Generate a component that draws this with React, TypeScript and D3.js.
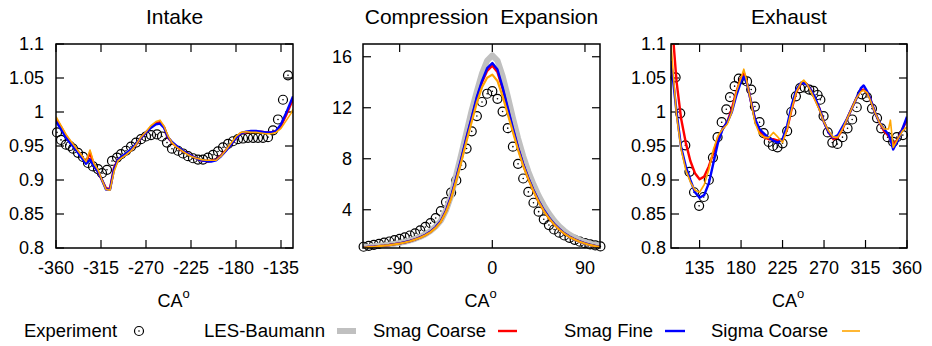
import React from "react";
import * as d3 from "d3";

// ---------------- DATA ----------------
// Intake
const intakeExpX = [-359,-355,-350,-346,-343,-338,-333,-328,-323,-318,-314,-309,-304,-299,-295,-290,-285,-280,-275,-270,-265,-259,-254,-249,-244,-238,-233,-228,-223,-218,-213,-208,-203,-198,-193,-188,-183,-178,-173,-168,-163,-158,-153,-148,-143,-138,-133,-128];
const intakeExpY = [0.970,0.959,0.952,0.950,0.946,0.940,0.934,0.925,0.920,0.916,0.910,0.915,0.928,0.933,0.938,0.943,0.949,0.955,0.960,0.964,0.966,0.967,0.964,0.955,0.946,0.943,0.939,0.935,0.932,0.930,0.930,0.933,0.937,0.942,0.948,0.953,0.957,0.960,0.961,0.962,0.962,0.962,0.962,0.963,0.973,0.989,1.018,1.054];
const intakeModelX = [-360,-355,-350,-345,-340,-335,-330,-326,-322,-318,-314,-310,-306,-302,-298,-294,-290,-285,-280,-275,-270,-265,-260,-256,-252,-248,-244,-240,-235,-230,-225,-220,-215,-210,-205,-200,-195,-190,-185,-180,-175,-170,-165,-160,-155,-150,-145,-140,-135,-130,-125,-123];
const intakeSmagCoarse = [0.990,0.978,0.965,0.955,0.946,0.936,0.926,0.940,0.922,0.912,0.900,0.888,0.887,0.918,0.930,0.934,0.938,0.944,0.952,0.962,0.970,0.978,0.984,0.985,0.978,0.962,0.955,0.950,0.944,0.940,0.936,0.932,0.929,0.928,0.928,0.930,0.936,0.944,0.952,0.962,0.969,0.970,0.971,0.971,0.971,0.970,0.970,0.972,0.980,0.995,1.012,1.018];
const intakeSmagFine = [0.986,0.975,0.962,0.953,0.944,0.934,0.924,0.930,0.920,0.912,0.900,0.886,0.886,0.916,0.930,0.935,0.939,0.945,0.953,0.962,0.970,0.977,0.982,0.983,0.977,0.963,0.956,0.951,0.945,0.940,0.936,0.932,0.929,0.928,0.927,0.929,0.935,0.943,0.952,0.962,0.969,0.971,0.972,0.972,0.971,0.970,0.970,0.972,0.982,0.998,1.016,1.023];
const intakeSigmaCoarse = [0.993,0.980,0.967,0.957,0.947,0.937,0.927,0.944,0.924,0.915,0.900,0.886,0.885,0.912,0.928,0.933,0.937,0.943,0.952,0.963,0.971,0.980,0.986,0.988,0.979,0.965,0.955,0.949,0.944,0.939,0.935,0.932,0.930,0.929,0.929,0.929,0.935,0.944,0.954,0.964,0.970,0.971,0.970,0.970,0.969,0.968,0.968,0.970,0.976,0.987,0.998,1.004];

// Compression / Expansion
const compX = [-125,-120,-115,-110,-105,-100,-95,-90,-85,-80,-75,-70,-65,-60,-55,-50,-45,-40,-35,-30,-25,-20,-15,-10,-5,0,5,10,15,20,25,30,35,40,45,50,55,60,65,70,75,80,85,90,95,100,105];
const compExp = [1.10,1.17,1.25,1.33,1.42,1.51,1.61,1.71,1.83,1.98,2.15,2.38,2.65,2.95,3.35,3.90,4.60,5.35,6.30,7.50,8.80,10.15,11.35,12.45,13.10,13.30,12.70,11.70,10.40,8.95,7.60,6.45,5.40,4.55,3.85,3.25,2.80,2.45,2.20,1.98,1.80,1.64,1.50,1.38,1.28,1.20,1.12];
const compBaumann = [1.07,1.10,1.14,1.18,1.22,1.27,1.33,1.40,1.48,1.59,1.72,1.88,2.08,2.34,2.68,3.15,3.95,5.10,6.75,8.40,10.10,11.80,13.30,14.70,15.70,16.10,15.70,14.50,12.90,11.20,9.60,8.20,7.00,6.00,5.10,4.35,3.70,3.15,2.70,2.35,2.05,1.82,1.62,1.47,1.35,1.25,1.18];
const compSmagCoarse = [1.05,1.08,1.11,1.15,1.19,1.24,1.30,1.36,1.44,1.55,1.68,1.83,2.02,2.28,2.62,3.10,3.90,5.00,6.45,8.00,9.65,11.20,12.75,14.00,14.90,15.30,14.80,13.50,11.90,10.30,8.85,7.55,6.45,5.50,4.65,3.95,3.35,2.87,2.47,2.13,1.88,1.67,1.50,1.36,1.25,1.16,1.09];
const compSmagFine = [1.05,1.08,1.11,1.15,1.19,1.24,1.30,1.36,1.45,1.55,1.68,1.84,2.03,2.29,2.64,3.12,3.92,5.05,6.50,8.05,9.70,11.25,12.85,14.10,15.10,15.50,15.00,13.60,12.00,10.40,8.90,7.60,6.50,5.55,4.70,4.00,3.40,2.90,2.50,2.15,1.90,1.68,1.51,1.37,1.26,1.17,1.10];
const compSigmaCoarse = [1.04,1.07,1.10,1.14,1.18,1.23,1.29,1.35,1.43,1.53,1.66,1.81,2.00,2.25,2.58,3.05,3.82,4.90,6.30,7.80,9.40,10.90,12.40,13.60,14.35,14.60,14.10,12.90,11.50,10.10,8.70,7.45,6.40,5.45,4.62,3.92,3.33,2.85,2.45,2.12,1.87,1.66,1.49,1.35,1.24,1.15,1.08];

// Exhaust
const exhExpX = [109,114,119.5,124,129,134.5,139.5,145,149.5,154.5,159,164,168,173,177.5,182,186.5,191,195,200,204.5,210,214.5,219.5,225,230,234.5,239.5,244,249,254,258.5,263,266,269.5,274,279,284.5,290,295.5,300.5,305.5,311,316.5,322,327.5,332,339,345,349,355.5];
const exhExpY = [1.051,0.998,0.951,0.912,0.882,0.862,0.875,0.900,0.933,0.963,0.985,1.004,1.022,1.038,1.049,1.048,1.045,1.033,1.008,0.985,0.969,0.956,0.950,0.948,0.954,0.972,1.000,1.023,1.035,1.036,1.033,1.031,1.025,1.018,0.994,0.970,0.955,0.953,0.963,0.976,0.989,1.007,1.026,1.022,1.005,0.991,0.976,0.963,0.956,0.963,0.966];
const exhModelX = [104,110,115,120,125,130,135,140,145,150,155,160,165,170,175,180,183,187,190,195,200,205,210,215,220,225,230,235,240,245,248,252,256,260,265,270,275,280,285,290,295,300,305,310,313,317,320,325,330,335,340,342,345,350,355,360];
const exhSmagCoarse = [1.150,1.045,0.990,0.955,0.928,0.910,0.901,0.905,0.920,0.940,0.962,0.975,0.985,1.005,1.030,1.050,1.058,1.040,1.020,0.990,0.972,0.963,0.960,0.960,0.958,0.958,0.975,1.005,1.030,1.042,1.045,1.040,1.032,1.020,1.005,0.985,0.970,0.960,0.963,0.975,0.990,1.005,1.020,1.032,1.033,1.028,1.020,1.000,0.985,0.972,0.965,0.960,0.952,0.960,0.975,0.988];
const exhSmagFine = [1.075,1.000,0.948,0.920,0.900,0.882,0.874,0.878,0.895,0.925,0.955,0.975,0.985,1.000,1.025,1.045,1.052,1.040,1.020,0.990,0.975,0.968,0.962,0.958,0.955,0.960,0.980,1.010,1.033,1.043,1.042,1.040,1.032,1.022,1.005,0.985,0.970,0.962,0.966,0.978,0.990,1.005,1.020,1.035,1.039,1.030,1.020,1.000,0.985,0.975,0.967,0.960,0.945,0.958,0.975,0.993];
const exhSigmaCoarse = [1.100,0.995,0.945,0.915,0.897,0.885,0.882,0.893,0.915,0.945,0.965,0.975,0.982,1.000,1.030,1.050,1.063,1.040,1.020,0.985,0.968,0.963,0.962,0.970,0.963,0.955,0.975,1.005,1.030,1.043,1.047,1.040,1.030,1.018,1.003,0.985,0.972,0.963,0.963,0.975,0.990,1.005,1.020,1.030,1.032,1.028,1.018,1.000,0.985,0.975,0.975,0.988,0.948,0.960,0.972,0.978];

// Ticks
const ratioTicks = [0.8, 0.85, 0.9, 0.95, 1, 1.05, 1.1];
const ratioTickLabels = ["0.8", "0.85", "0.9", "0.95", "1", "1.05", "1.1"];
const intakeXTicks = [-360, -315, -270, -225, -180, -135];
const compXTicks = [-90, 0, 90];
const compYTicks = [4, 8, 12, 16];
const exhXTicks = [135, 180, 225, 270, 315, 360];

const titles = ["Intake", "Compression  Expansion", "Exhaust"];
const legendNames = ["Experiment", "LES-Baumann", "Smag Coarse", "Smag Fine", "Sigma Coarse"];

// ---------------- STYLE ----------------
const FONT = "'Liberation Sans', Arial, Helvetica, sans-serif";
const C_GRAY = "#c0c0c0";
const C_RED = "#ff0000";
const C_BLUE = "#0000ff";
const C_ORANGE = "#ffa500";
const TOP = 44;
const BOTTOM = 248;

type Line = { x: number[]; y: number[]; color: string; width: number };
type PanelCfg = {
  id: string;
  title: string;
  left: number;
  right: number;
  xDomain: [number, number];
  yDomain: [number, number];
  xTicks: number[];
  yTicks: number[];
  yLabels: string[];
  yLabelX: number;
  expX: number[];
  expY: number[];
  lines: Line[];
};

const panels: PanelCfg[] = [
  {
    id: "p1", title: titles[0], left: 56, right: 293,
    xDomain: [-360, -123], yDomain: [0.8, 1.1],
    xTicks: intakeXTicks, yTicks: ratioTicks, yLabels: ratioTickLabels, yLabelX: 44,
    expX: intakeExpX, expY: intakeExpY,
    lines: [
      { x: intakeModelX, y: intakeSmagCoarse, color: C_RED, width: 2.4 },
      { x: intakeModelX, y: intakeSmagFine, color: C_BLUE, width: 2.4 },
      { x: intakeModelX, y: intakeSigmaCoarse, color: C_ORANGE, width: 1.6 },
    ],
  },
  {
    id: "p2", title: titles[1], left: 363, right: 600,
    xDomain: [-125.6, 104.6], yDomain: [1, 17],
    xTicks: compXTicks, yTicks: compYTicks, yLabels: compYTicks.map(String), yLabelX: 352,
    expX: compX, expY: compExp,
    lines: [
      { x: compX, y: compBaumann, color: C_GRAY, width: 6 },
      { x: compX, y: compSmagCoarse, color: C_RED, width: 2.4 },
      { x: compX, y: compSmagFine, color: C_BLUE, width: 2.4 },
      { x: compX, y: compSigmaCoarse, color: C_ORANGE, width: 2.2 },
    ],
  },
  {
    id: "p3", title: titles[2], left: 671, right: 907,
    xDomain: [104, 360], yDomain: [0.8, 1.1],
    xTicks: exhXTicks, yTicks: ratioTicks, yLabels: ratioTickLabels, yLabelX: 666,
    expX: exhExpX, expY: exhExpY,
    lines: [
      { x: exhModelX, y: exhSmagCoarse, color: C_RED, width: 2.4 },
      { x: exhModelX, y: exhSmagFine, color: C_BLUE, width: 2.4 },
      { x: exhModelX, y: exhSigmaCoarse, color: C_ORANGE, width: 1.6 },
    ],
  },
];

const TICK = 8;

function Panel({ cfg }: { cfg: PanelCfg }) {
  const x = d3.scaleLinear().domain(cfg.xDomain).range([cfg.left, cfg.right]);
  const y = d3.scaleLinear().domain(cfg.yDomain).range([BOTTOM, TOP]);
  const gen = d3
    .line<[number, number]>()
    .x((d) => x(d[0]))
    .y((d) => y(d[1]));
  const cx = (cfg.left + cfg.right) / 2;
  return (
    <g>
      <defs>
        <clipPath id={`clip-${cfg.id}`}>
          <rect x={cfg.left} y={TOP} width={cfg.right - cfg.left} height={BOTTOM - TOP} />
        </clipPath>
      </defs>
      <text
        x={cx}
        y={24}
        textAnchor="middle"
        fontSize={21}
        fontFamily={FONT}
        style={{ whiteSpace: "pre" }}
        xmlSpace="preserve"
      >
        {cfg.title}
      </text>
      {cfg.xTicks.map((t) => (
        <g key={"xt" + t}>
          <line x1={x(t)} x2={x(t)} y1={BOTTOM} y2={BOTTOM - TICK} stroke="#000" strokeWidth={1.2} />
          <line x1={x(t)} x2={x(t)} y1={TOP} y2={TOP + TICK} stroke="#000" strokeWidth={1.2} />
          <text x={x(t)} y={274} textAnchor="middle" fontSize={18} fontFamily={FONT}>
            {String(t)}
          </text>
        </g>
      ))}
      {cfg.yTicks.map((t, i) => (
        <g key={"yt" + t}>
          <line x1={cfg.left} x2={cfg.left + TICK} y1={y(t)} y2={y(t)} stroke="#000" strokeWidth={1.2} />
          <line x1={cfg.right} x2={cfg.right - TICK} y1={y(t)} y2={y(t)} stroke="#000" strokeWidth={1.2} />
          <text x={cfg.yLabelX} y={y(t)} dy="0.36em" textAnchor="end" fontSize={18} fontFamily={FONT}>
            {cfg.yLabels[i]}
          </text>
        </g>
      ))}
      {cfg.expX.map((xv, i) => (
        <g key={"e" + i}>
          <circle cx={x(xv)} cy={y(cfg.expY[i])} r={4.5} fill="none" stroke="#000" strokeWidth={1.2} />
          <circle cx={x(xv)} cy={y(cfg.expY[i])} r={0.8} fill="#000" />
        </g>
      ))}
      <g clipPath={`url(#clip-${cfg.id})`}>
        {cfg.lines.map((l, i) => (
          <path
            key={"l" + i}
            d={gen(l.x.map((xv, j) => [xv, l.y[j]] as [number, number])) || ""}
            fill="none"
            stroke={l.color}
            strokeWidth={l.width}
            strokeLinejoin="round"
          />
        ))}
      </g>
      <rect x={cfg.left} y={TOP} width={cfg.right - cfg.left} height={BOTTOM - TOP} fill="none" stroke="#000" strokeWidth={1.5} />
      <text x={cx - 17} y={307} fontSize={18} fontFamily={FONT}>
        CA
        <tspan dy={-9} fontSize={13}>o</tspan>
      </text>
    </g>
  );
}

function Legend() {
  const ly = 331;
  const base = 337;
  const items = [
    { name: legendNames[0], x: 24, w: 93 },
    { name: legendNames[1], x: 204, w: 121 },
    { name: legendNames[2], x: 373, w: 113 },
    { name: legendNames[3], x: 564, w: 89 },
    { name: legendNames[4], x: 711, w: 117 },
  ];
  const marks = [
    { x1: 337, x2: 356, color: C_GRAY, width: 6 },
    { x1: 498, x2: 517, color: C_RED, width: 2.4 },
    { x1: 665, x2: 685, color: C_BLUE, width: 2.4 },
    { x1: 842, x2: 860, color: C_ORANGE, width: 1.6 },
  ];
  return (
    <g>
      {items.map((it) => (
        <text
          key={it.name}
          x={it.x}
          y={base}
          fontSize={18}
          fontFamily={FONT}
          textLength={it.w}
          lengthAdjust="spacingAndGlyphs"
        >
          {it.name}
        </text>
      ))}
      <circle cx={139} cy={ly} r={4.5} fill="none" stroke="#000" strokeWidth={1.2} />
      <circle cx={139} cy={ly} r={0.8} fill="#000" />
      {marks.map((m, i) => (
        <line key={i} x1={m.x1} x2={m.x2} y1={ly} y2={ly} stroke={m.color} strokeWidth={m.width} />
      ))}
    </g>
  );
}

export default function App() {
  return (
    <svg
      width={932}
      height={346}
      viewBox="0 0 932 346"
      style={{ position: "absolute", left: 0, top: 0, background: "#fff" }}
    >
      <rect width={932} height={346} fill="#fff" />
      {panels.map((p) => (
        <Panel key={p.id} cfg={p} />
      ))}
      <Legend />
    </svg>
  );
}
